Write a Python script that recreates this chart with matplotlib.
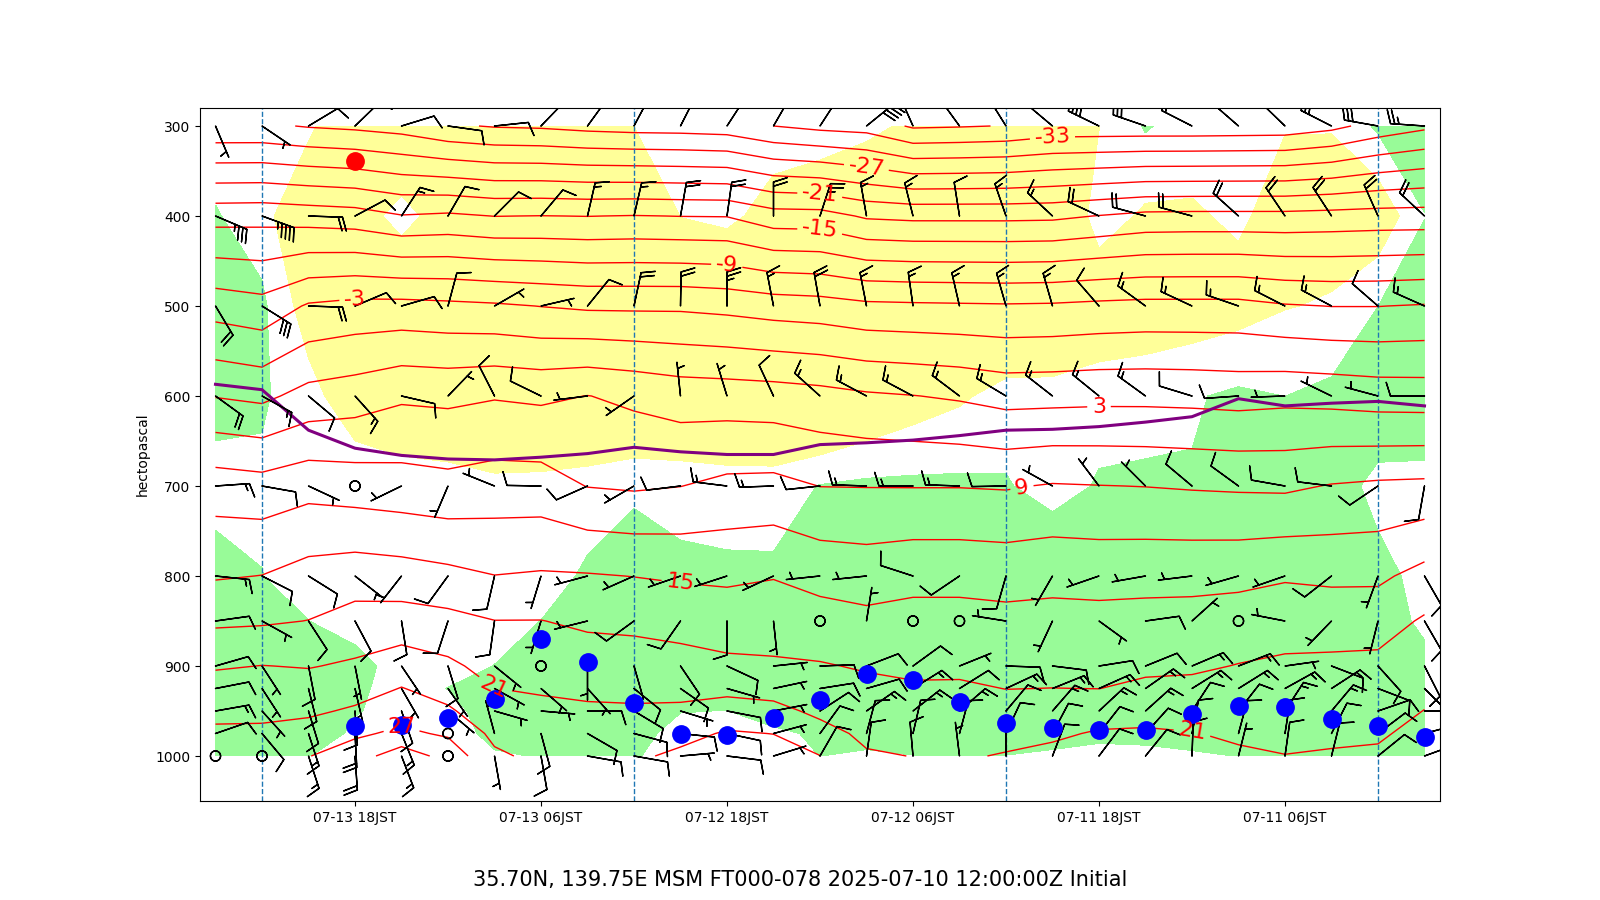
import numpy as np
import matplotlib
matplotlib.use("Agg")
import matplotlib.pyplot as plt

# ---------------- data ----------------
forecast_hours = list(range(0, 79, 3))          # FT000 ... FT078
pressure_levels = [300, 400, 500, 600, 700, 800, 850, 900, 925, 950, 975, 1000]

# temperature (degC), one row per level, columns FT000 -> FT078
temp_300 = [-30.6, -31.9, -33.8, -34.8, -34.9, -35.0, -35.0, -35.0, -35.0, -35.9, -36.2, -36.4, -34.2, -33.8, -33.0, -31.6, -31.3, -31.2, -30.9, -30.4, -30.2, -29.6, -28.2, -27.6, -27.2, -26.5, -26.5]
temp_400 = [-16.65, -16.7, -16.9, -17.1, -17.1, -17.1, -17.2, -17.9, -18.6, -18.7, -18.7, -18.7, -18.4, -16.8, -16.7, -15.1, -15.05, -14.9, -15.05, -14.95, -15.05, -14.5, -14.85, -13.7, -13.35, -13.0, -13.1]
temp_500 = [-5.8, -6.05, -6.05, -5.76, -5.1, -5.1, -5.1, -5.3, -5.6, -5.7, -5.6, -5.5, -5.35, -4.7, -4.4, -3.85, -3.5, -3.5, -3.46, -3.06, -2.6, -2.32, -2.04, -2.1, -2.66, -4.96, -4.26]
temp_600 = [1.5, 1.6, 1.95, 2.16, 1.9, 2.1, 2.2, 2.2, 2.05, 1.96, 2.65, 3.07, 3.4, 4.0, 4.4, 4.6, 4.76, 5.47, 6.05, 5.5, 5.8, 5.37, 5.56, 4.56, 4.0, 2.34, 2.87]
temp_700 = [9.66, 9.5, 9.16, 8.5, 8.6, 8.75, 8.95, 9.06, 9.2, 8.77, 8.9, 8.9, 8.92, 8.96, 9.8, 9.68, 8.96, 8.64, 8.92, 10.27, 10.3, 9.84, 10.2, 10.56, 11.0, 10.2, 10.6]
temp_800 = [16.0, 14.45, 14.43, 14.7, 14.26, 14.15, 14.1, 14.0, 14.15, 13.9, 14.1, 14.1, 13.66, 14.0, 14.87, 14.5, 14.65, 14.95, 15.2, 15.3, 15.05, 15.76, 16.3, 16.6, 16.1, 15.05, 14.75]
temp_850 = [18.33, 16.8, 16.73, 16.76, 16.3, 16.0, 15.94, 15.84, 15.9, 15.8, 16.0, 16.0, 15.7, 16.2, 16.55, 16.5, 16.9, 17.3, 17.5, 18.06, 18.05, 18.86, 19.3, 19.1, 18.05, 17.65, 17.5]
temp_900 = [19.6, 18.68, 18.57, 18.46, 18.1, 17.6, 17.5, 17.3, 17.3, 17.25, 17.55, 17.4, 17.75, 18.2, 18.4, 18.6, 19.1, 19.4, 19.5, 19.85, 20.0, 21.56, 22.5, 21.4, 20.85, 21.05, 20.7]
temp_925 = [20.3, 19.35, 19.24, 19.1, 18.9, 18.65, 18.5, 17.98, 18.02, 17.97, 18.3, 18.35, 18.65, 19.3, 20.0, 20.3, 20.2, 20.4, 20.45, 20.74, 21.02, 22.9, 24.1, 22.8, 22.2, 22.2, 22.3]
temp_950 = [21.05, 20.0, 19.9, 19.75, 19.8, 19.85, 19.9, 19.6, 19.25, 18.8, 19.1, 19.2, 19.5, 20.4, 21.8, 22.2, 21.5, 21.3, 21.4, 21.6, 22.2, 24.4, 25.7, 24.4, 23.5, 23.4, 23.3]
temp_975 = [21.7, 20.7, 20.6, 20.4, 20.6, 21.1, 21.4, 21.3, 20.5, 20.1, 19.9, 20.1, 20.4, 22.0, 23.95, 24.3, 23.1, 22.4, 22.3, 22.5, 23.3, 26.6, 27.6, 26.5, 25.2, 24.5, 24.5]
temp_1000 = [22.3, 21.35, 21.2, 21.05, 21.4, 22.4, 22.6, 22.5, 21.8, 21.2, 20.7, 20.95, 21.3, 24.05, 25.5, 25.8, 24.6, 23.5, 23.2, 23.3, 24.5, 28.9, 31.7, 28.6, 26.9, 25.5, 25.5]

# humidity index (%) used for the dry (yellow) / moist (green) shading
rh_300 = [85, 63.4, 41, 41, 50, 50, 62, 39.5, 10, 10, 10, 37.7, 43, 50, 50, 50, 50, 40.2, 10, 10, 10, 10, 15, 10, 46, 50, 50]
rh_400 = [59, 23.8, 29.5, 31, 43.4, 37.5, 36.4, 50, 10, 10, 10, 10, 25.8, 23.5, 31.5, 45, 40.5, 10, 10, 10, 10, 30, 47, 30, 10, 50.6, 61.4]
rh_500 = [85, 59.8, 42, 39.1, 31.5, 27, 20, 22.2, 10, 10, 10, 10, 10, 10, 10, 10, 10, 10, 10, 10, 10, 10, 15, 10, 29, 63.8, 90]
rh_600 = [85, 88, 64.9, 59.9, 63.3, 58.3, 57, 50.9, 48.2, 47.5, 36.8, 28.5, 15.9, 0, 10, 10, 10, 10, 10, 10, 10, 18, 20, 25, 48, 62.7, 70]
rh_700 = [50, 50, 77, 85, 85, 61.2, 61.3, 62.2, 50, 62, 63.8, 64.3, 64.1, 61, 48.5, 49, 51.7, 53.5, 48.5, 45.7, 45, 48, 50, 55, 50, 56.1, 50]
rh_800 = [50, 70, 85, 85, 85, 85, 85, 85, 85, 85, 85, 85, 85, 85, 64.3, 64.5, 65.5, 79.7, 63.5, 50, 50, 50, 50, 50, 50, 60.4, 70.4]
rh_850 = [50, 85, 85, 85, 85, 85, 85, 85, 85, 85, 85, 85, 85, 85, 85, 85, 85, 90, 85, 60.2, 52, 50, 50, 50, 60.2, 90, 90]
rh_900 = [73.8, 85, 85, 85, 85, 85, 85, 85, 85, 85, 85, 85, 85, 85, 85, 85, 85, 90, 85, 75, 60.3, 52, 50, 68.9, 90, 90, 90]
rh_925 = [85, 85, 85, 85, 85, 85, 85, 85, 85, 85, 85, 85, 85, 85, 85, 80, 80, 90, 85, 80, 75, 60.5, 50, 65, 90, 90, 90]
rh_950 = [85, 85, 85, 85, 85, 85, 85, 85, 85, 85, 85, 85, 80, 75, 75, 59.5, 61, 85, 85, 80, 72, 52, 50, 62, 85, 90, 90]
rh_975 = [85, 85, 85, 75, 70, 70, 65, 65, 70, 70, 70, 70, 70, 65, 53.6, 50, 50, 70, 85, 80, 66, 50, 50, 54, 80, 90, 90]
rh_1000 = [85, 85, 85, 62, 60.5, 56.8, 55.4, 53.6, 56, 59.6, 59.6, 59.6, 56, 60.2, 50, 50, 50, 62, 85, 61, 57.7, 50, 50, 50, 60.5, 90, 90]

# wind direction (deg, from) and speed (kt)
dir_300 = [274, 280, 297, 314, 311, 297, 289, 296, 310, 328, 324, 336, 51, 33, 30, 33, 27, 28, 36, 44, 84, 98, 73, 46, 59, 124, 157]
spd_300 = [25, 30, 25, 20, 20, 20, 30, 35, 20, 20, 20, 20, 40, 20, 15, 15, 15, 15, 10, 10, 10, 10, 10, 10, 10, 5, 5]
dir_400 = [313, 336, 327, 326, 312, 285, 285, 295, 313, 341, 351, 346, 350, 18, 0, 8, 10, 13, 13, 40, 45, 30, 33, 62, 92, 110, 113]
spd_400 = [20, 20, 20, 20, 20, 20, 20, 20, 15, 15, 10, 15, 15, 25, 20, 20, 20, 15, 15, 10, 10, 10, 15, 10, 20, 45, 35]
dir_500 = [294, 311, 298, 297, 289, 295, 306, 319, 344, 344, 347, 352, 349, 350, 349, 0, 1, 12, 39, 77, 60, 15, 74, 67, 92, 122, 149]
spd_500 = [15, 10, 15, 15, 15, 15, 15, 10, 15, 15, 15, 15, 15, 20, 15, 25, 20, 20, 10, 5, 5, 10, 10, 10, 20, 30, 20]
dir_600 = [270, 285, 296, 268, 266, 287, 306, 309, 308, 301, 307, 298, 298, 312, 335, 343, 354, 235, 263, 296, 333, 44, 103, 138, 130, 119, 126]
spd_600 = [10, 5, 5, 5, 10, 10, 15, 15, 15, 15, 15, 15, 15, 15, 10, 5, 5, 5, 5, 10, 10, 5, 10, 15, 10, 15, 20]
dir_700 = [190, 236, 277, 280, 306, 310, 315, 323, 299, 269, 272, 270, 272, 264, 268, 277, 263, 240, 246, 271, 292, 203, 244, 0, 115, 100, 86]
spd_700 = [10, 10, 10, 10, 10, 10, 5, 5, 5, 10, 15, 15, 15, 10, 15, 15, 10, 5, 10, 10, 5, 5, 5, 0, 5, 10, 15]
dir_800 = [150, 200, 232, 251, 254, 263, 260, 251, 210, 196, 236, 288, 264, 264, 245, 252, 251, 246, 255, 197, 193, 216, 218, 128, 122, 117, 96]
spd_800 = [10, 5, 10, 5, 5, 5, 5, 5, 5, 10, 10, 10, 5, 5, 5, 5, 5, 5, 5, 5, 10, 10, 5, 5, 10, 10, 15]
dir_850 = [150, 194, 224, 281, 0, 48, 82, 126, 205, 279, 0, 0, 9, 0, 174, 180, 215, 234, 256, 197, 188, 198, 171, 152, 147, 119, 82]
spd_850 = [10, 5, 5, 5, 0, 5, 10, 5, 5, 5, 0, 0, 5, 0, 5, 10, 10, 10, 5, 5, 10, 10, 10, 10, 10, 5, 10]
dir_900 = [153, 138, 111, 82, 69, 67, 68, 81, 97, 92, 68, 54, 69, 88, 84, 115, 146, 164, 180, 0, 129, 163, 146, 169, 169, 147, 74]
spd_900 = [10, 10, 10, 5, 15, 15, 10, 10, 10, 10, 5, 10, 10, 10, 5, 10, 10, 10, 5, 0, 5, 10, 5, 5, 10, 5, 10]
dir_925 = [135, 111, 57, 61, 58, 58, 55, 66, 68, 65, 58, 58, 74, 81, 78, 106, 125, 129, 138, 131, 119, 145, 150, 167, 166, 147, 79]
spd_925 = [10, 10, 15, 15, 15, 15, 15, 15, 15, 15, 10, 15, 10, 10, 5, 5, 10, 10, 5, 5, 5, 5, 5, 5, 10, 5, 10]
dir_950 = [90, 71, 40, 33, 38, 33, 48, 47, 41, 40, 49, 52, 55, 57, 79, 101, 107, 121, 90, 95, 106, 130, 161, 176, 163, 138, 80]
spd_950 = [10, 10, 15, 15, 10, 10, 15, 15, 15, 10, 15, 15, 15, 10, 5, 10, 5, 10, 10, 5, 5, 5, 10, 10, 10, 5, 15]
dir_975 = [75, 53, 27, 9, 15, 11, 42, 38, 28, 25, 15, 13, 15, 36, 75, 102, 96, 105, 120, 165, 345, 0, 158, 177, 162, 140, 71]
spd_975 = [5, 10, 10, 10, 10, 10, 10, 10, 10, 10, 10, 10, 10, 10, 5, 10, 10, 10, 10, 10, 5, 0, 15, 20, 15, 10, 10]
dir_1000 = [70, 51, 14, 8, 14, 2, 39, 37, 21, 0, 353, 355, 8, 30, 73, 97, 85, 100, 100, 170, 170, 0, 159, 176, 162, 0, 0]
spd_1000 = [5, 10, 10, 10, 5, 10, 10, 10, 10, 5, 5, 10, 10, 10, 5, 10, 5, 10, 10, 10, 5, 0, 15, 20, 15, 0, 0]

# purple line (hPa), blue dots (hPa), red dot
purple_line_p = [611, 606, 608, 611, 603, 623, 629, 634, 637, 638, 644, 649, 652, 654, 665, 665, 662, 657, 664, 668, 671, 670, 666, 658, 638, 593, 587]
blue_dot_p = [979, 967, 959, 945, 944, 953, 971, 971, 969, 963, 940, 916, 909, 938, 958, 977, 975, 941, 896, 870, 937, 958, 965, 967, np.nan, np.nan, np.nan]
red_dot_ft = [69]
red_dot_p = [339]

contour_levels_all = list(range(-60, 40, 3))
label_levels = [-33, -27, -21, -15, -9, -3, 3, 9, 15, 21, 27]

tick_ft = [69, 57, 45, 33, 21, 9]
tick_labels = ["07-13 18JST", "07-13 06JST", "07-12 18JST", "07-12 06JST", "07-11 18JST", "07-11 06JST"]
day_boundary_ft = [75, 51, 27, 3]
title_text = "35.70N, 139.75E MSM FT000-078 2025-07-10 12:00:00Z Initial"

# ---------------- build arrays ----------------
temperature = np.array([temp_300, temp_400, temp_500, temp_600, temp_700, temp_800,
                        temp_850, temp_900, temp_925, temp_950, temp_975, temp_1000])
humidity = np.array([rh_300, rh_400, rh_500, rh_600, rh_700, rh_800,
                     rh_850, rh_900, rh_925, rh_950, rh_975, rh_1000])
wdir = np.array([dir_300, dir_400, dir_500, dir_600, dir_700, dir_800,
                 dir_850, dir_900, dir_925, dir_950, dir_975, dir_1000], dtype=float)
wspd = np.array([spd_300, spd_400, spd_500, spd_600, spd_700, spd_800,
                 spd_850, spd_900, spd_925, spd_950, spd_975, spd_1000], dtype=float)
u = -wspd * np.sin(np.deg2rad(wdir))
v = -wspd * np.cos(np.deg2rad(wdir))

X, Y = np.meshgrid(forecast_hours, pressure_levels)

fig = plt.figure(figsize=(16, 9), dpi=100)
ax = fig.add_subplot(111)

# shading
ax.contourf(X, Y, humidity, levels=[-100, 40], colors=["#ffff99"], zorder=1)
ax.contourf(X, Y, humidity, levels=[60, 200], colors=["#98fb98"], zorder=1)

# temperature contours: unlabeled and labeled sets (all solid)
plain_levels = [lv for lv in contour_levels_all if lv not in label_levels]
ax.contour(X, Y, temperature, levels=plain_levels, colors="red",
           linewidths=1.0, linestyles="solid", zorder=2)
cs_lab = ax.contour(X, Y, temperature, levels=label_levels, colors="red",
                    linewidths=1.0, linestyles="solid", zorder=2)
label_spots = [(24, 313), (36, 345), (39, 372), (39, 412), (45, 451), (69, 487),
               (21, 608), (26, 699), (48, 805), (60, 923), (15, 974), (66, 959)]
label_texts = ax.clabel(cs_lab, fmt="%d", fontsize=16, inline=True, manual=label_spots)
for t in label_texts:
    t.set_zorder(5)

# day boundaries
for d in day_boundary_ft:
    ax.axvline(d, color="C0", linestyle="--", linewidth=1.0, zorder=2)

# purple line
ax.plot(forecast_hours, purple_line_p, color="purple", linewidth=2.2, zorder=2.4)

# wind barbs
ax.barbs(X, Y, u, v, length=7, color="black", zorder=2.5)

# dots
ax.plot(forecast_hours, blue_dot_p, "o", color="blue", markersize=12.5,
        linestyle="none", zorder=2.6)
ax.plot(red_dot_ft, red_dot_p, "o", color="red", markersize=12.5,
        linestyle="none", zorder=2.6)

ax.set_xlim(79, -1)
ax.set_ylim(1050, 280)
ax.set_yticks(range(300, 1001, 100))
ax.set_xticks(tick_ft)
ax.set_xticklabels(tick_labels)
ax.set_ylabel("hectopascal")

fig.text(0.5, 1 - 880 / 900, title_text, ha="center", va="center", fontsize=15)

fig.savefig("out.png", dpi=100)
